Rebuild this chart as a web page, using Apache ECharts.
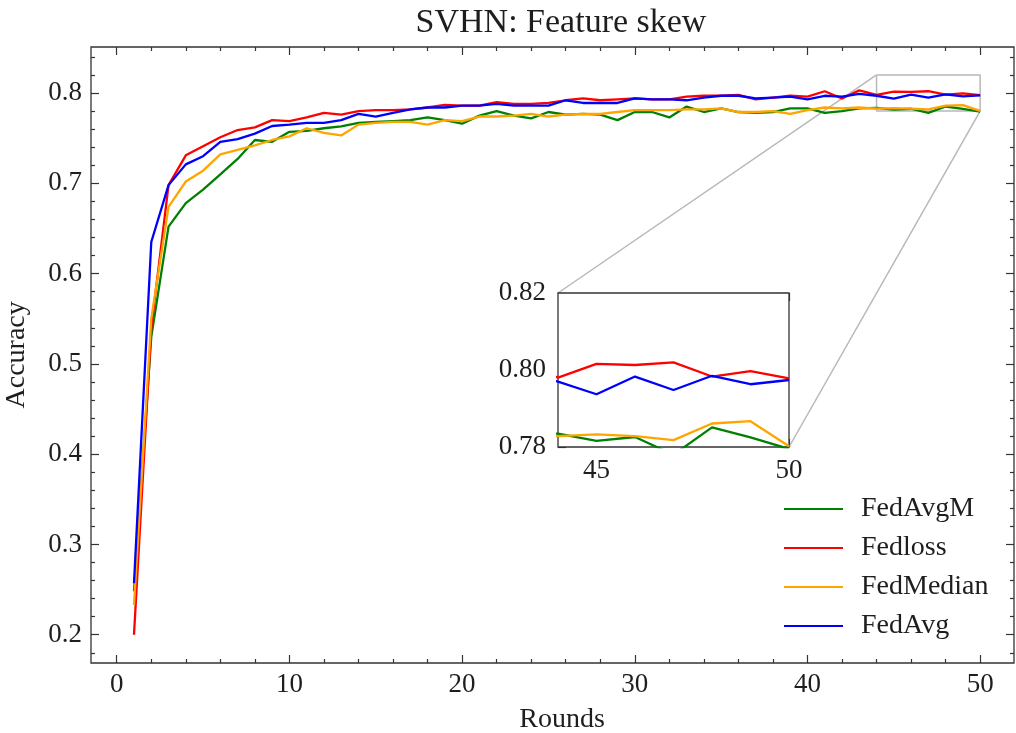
<!DOCTYPE html>
<html>
<head>
<meta charset="utf-8">
<script src="https://cdn.jsdelivr.net/npm/echarts@6/dist/echarts.min.js"></script>
<style>
html,body{margin:0;padding:0;background:#fff;}
#c{width:1016px;height:733px;}
</style>
</head>
<body>
<div id="c"></div>
<script>
// ---------------- data ----------------
const rounds = [1,2,3,4,5,6,7,8,9,10,11,12,13,14,15,16,17,18,19,20,21,22,23,24,25,26,27,28,29,30,31,32,33,34,35,36,37,38,39,40,41,42,43,44,45,46,47,48,49,50];
const fedAvgM = [0.248,0.530,0.652,0.678,0.693,0.710,0.727,0.748,0.746,0.757,0.758,0.761,0.763,0.767,0.768,0.769,0.770,0.773,0.770,0.766,0.775,0.780,0.775,0.772,0.779,0.776,0.777,0.776,0.770,0.779,0.779,0.773,0.785,0.779,0.783,0.779,0.778,0.779,0.783,0.783,0.778,0.780,0.783,0.7835,0.7816,0.7826,0.778,0.7851,0.7825,0.7795];
const fedLoss = [0.200,0.540,0.698,0.731,0.741,0.751,0.759,0.762,0.770,0.769,0.773,0.778,0.776,0.780,0.781,0.781,0.782,0.784,0.787,0.786,0.786,0.790,0.788,0.788,0.789,0.792,0.794,0.792,0.793,0.794,0.793,0.793,0.796,0.797,0.797,0.798,0.793,0.795,0.797,0.796,0.802,0.794,0.803,0.798,0.8016,0.8013,0.8020,0.7983,0.7997,0.7978];
const fedMedian = [0.233,0.550,0.674,0.702,0.714,0.732,0.737,0.742,0.748,0.752,0.761,0.756,0.753,0.765,0.767,0.768,0.768,0.765,0.770,0.769,0.774,0.774,0.775,0.777,0.774,0.776,0.777,0.777,0.779,0.781,0.781,0.781,0.782,0.782,0.783,0.779,0.779,0.780,0.777,0.781,0.784,0.783,0.784,0.7828,0.7833,0.7828,0.7818,0.7861,0.7867,0.7802];
const fedAvg = [0.257,0.635,0.698,0.721,0.730,0.746,0.749,0.755,0.7635,0.765,0.767,0.767,0.770,0.777,0.774,0.778,0.782,0.784,0.784,0.786,0.786,0.788,0.786,0.786,0.786,0.792,0.789,0.789,0.789,0.794,0.793,0.793,0.792,0.795,0.797,0.797,0.794,0.795,0.796,0.793,0.797,0.796,0.799,0.797,0.7937,0.7983,0.7948,0.7985,0.7963,0.7974];

const seriesNames = ['FedAvgM','Fedloss','FedMedian','FedAvg'];
const seriesColors = ['#008000','#ff0000','#ffa500','#0000ff'];
const seriesValues = [fedAvgM, fedLoss, fedMedian, fedAvg];

const xTicks = [0,10,20,30,40,50];
const yTicks = [0.2,0.3,0.4,0.5,0.6,0.7,0.8];
const insetXTicks = [45,50];
const insetYTicks = [0.78,0.80,0.82];
const zoomBox = {x0:44, x1:50, y0:0.78, y1:0.82};

const titleText = 'SVHN: Feature skew';
const xLabel = 'Rounds';
const yLabel = 'Accuracy';

// minor tick positions
const xMinor = [];
for (let v = 2; v <= 50; v += 2) if (v % 10 !== 0) xMinor.push(v);
const yMinor = [];
for (let k = 9; k <= 42; k++) { if (k % 5 !== 0) yMinor.push(+(k*0.02).toFixed(2)); }
const insetXMinor = [46,47,48,49];
const insetYMinor = [0.785,0.79,0.795,0.805,0.81,0.815];

// ---------------- style ----------------
const FONT = "'Liberation Serif','DejaVu Serif',serif";
const TXT = '#1e1e1e';
const AX = '#333333';
const LW = 2.3;

function mkAxis(dim, grid, pos, min, max, ticks, len, labels, fmt, margin) {
  const a = {
    type: 'value', gridIndex: grid, position: pos, min: min, max: max,
    axisLine: {show: false, onZero: false},
    splitLine: {show: false},
    axisTick: {show: true, inside: true, length: len, customValues: ticks,
               lineStyle: {color: AX, width: 1.2}},
    axisLabel: {show: !!labels}
  };
  if (labels) {
    a.axisLabel = {show: true, customValues: labels, margin: margin,
      fontFamily: FONT, fontSize: 27, color: TXT,
      formatter: fmt, showMinLabel: true, showMaxLabel: true};
  }
  return a;
}

const mainX = {min: -1.49, max: 51.96};
const mainY = {min: 0.1687, max: 0.851};

const xAxes = [
  mkAxis('x',0,'bottom',mainX.min,mainX.max,xTicks,8,xTicks,v=>String(Math.round(v)),8),
  mkAxis('x',0,'top',mainX.min,mainX.max,xTicks,8,null),
  mkAxis('x',0,'bottom',mainX.min,mainX.max,xMinor,4,null),
  mkAxis('x',0,'top',mainX.min,mainX.max,xMinor,4,null),
  mkAxis('x',1,'bottom',zoomBox.x0,zoomBox.x1,insetXTicks,8,insetXTicks,v=>String(Math.round(v)),10),
  mkAxis('x',1,'top',zoomBox.x0,zoomBox.x1,insetXTicks,8,null),
  mkAxis('x',1,'bottom',zoomBox.x0,zoomBox.x1,insetXMinor,4,null),
  mkAxis('x',1,'top',zoomBox.x0,zoomBox.x1,insetXMinor,4,null)
];
const yAxes = [
  mkAxis('y',0,'left',mainY.min,mainY.max,yTicks,8,yTicks,v=>v.toFixed(1),9),
  mkAxis('y',0,'right',mainY.min,mainY.max,yTicks,8,null),
  mkAxis('y',0,'left',mainY.min,mainY.max,yMinor,4,null),
  mkAxis('y',0,'right',mainY.min,mainY.max,yMinor,4,null),
  mkAxis('y',1,'left',zoomBox.y0,zoomBox.y1,insetYTicks,8,insetYTicks,v=>v.toFixed(2),12),
  mkAxis('y',1,'right',zoomBox.y0,zoomBox.y1,insetYTicks,8,null),
  mkAxis('y',1,'left',zoomBox.y0,zoomBox.y1,insetYMinor,4,null),
  mkAxis('y',1,'right',zoomBox.y0,zoomBox.y1,insetYMinor,4,null)
];

const series = [];
seriesValues.forEach((vals, i) => {
  const data = rounds.map((r, j) => [r, vals[j]]);
  series.push({
    name: seriesNames[i], type: 'line', xAxisIndex: 0, yAxisIndex: 0,
    data: data, symbol: 'none', showSymbol: false, clip: true, z: 3 + i,
    color: seriesColors[i],
    itemStyle: {color: seriesColors[i]},
    lineStyle: {color: seriesColors[i], width: LW}
  });
});
seriesValues.forEach((vals, i) => {
  const data = rounds.map((r, j) => [r, vals[j]]);
  series.push({
    name: seriesNames[i], type: 'line', xAxisIndex: 4, yAxisIndex: 4,
    data: data, symbol: 'none', showSymbol: false, clip: true, z: 13 + i,
    color: seriesColors[i],
    itemStyle: {color: seriesColors[i]},
    lineStyle: {color: seriesColors[i], width: LW}
  });
});
// zoom rectangle in the main axes
series.push({
  name: 'zoomRect', type: 'line', xAxisIndex: 0, yAxisIndex: 0,
  data: [[zoomBox.x0,zoomBox.y1],[zoomBox.x1,zoomBox.y1],[zoomBox.x1,zoomBox.y0],[zoomBox.x0,zoomBox.y0],[zoomBox.x0,zoomBox.y1]],
  symbol: 'none', silent: true, z: 2,
  lineStyle: {color: '#b8b8b8', width: 1.5}
});

const option = {
  animation: false,
  backgroundColor: '#ffffff',
  title: {
    text: titleText, left: 556, top: 1, textAlign: 'center',
    textStyle: {fontFamily: FONT, fontSize: 34, fontWeight: 'normal', color: TXT}
  },
  legend: {
    data: seriesNames.map(n => ({name: n, icon: 'rect'})),
    orient: 'vertical', left: 779, top: 490,
    itemWidth: 59, itemHeight: 2.2, itemGap: 11,
    textStyle: {fontFamily: FONT, fontSize: 28, color: TXT, lineHeight: 28, padding: [0,0,0,13]}
  },
  grid: [
    {left: 91, top: 47, width: 923, height: 616, show: true, borderColor: AX, borderWidth: 1.3,
     backgroundColor: 'transparent', containLabel: false, outerBoundsMode: 'none'},
    {left: 558, top: 293, width: 231, height: 154, show: true, borderColor: AX, borderWidth: 1.3,
     backgroundColor: '#ffffff', containLabel: false, outerBoundsMode: 'none', z: 10}
  ],
  xAxis: xAxes,
  yAxis: yAxes,
  series: series
};

const chart = echarts.init(document.getElementById('c'), null, {renderer: 'canvas'});
chart.setOption(option);

// connectors between zoom box and inset, located through the library's scales
const pMainTL = chart.convertToPixel({xAxisIndex: 0, yAxisIndex: 0}, [zoomBox.x0, zoomBox.y1]);
const pMainBR = chart.convertToPixel({xAxisIndex: 0, yAxisIndex: 0}, [zoomBox.x1, zoomBox.y0]);
const pInsTL = chart.convertToPixel({xAxisIndex: 4, yAxisIndex: 4}, [zoomBox.x0, zoomBox.y1]);
const pInsBR = chart.convertToPixel({xAxisIndex: 4, yAxisIndex: 4}, [zoomBox.x1, zoomBox.y0]);

// axis titles positioned relative to the grid
const cx = chart.convertToPixel({xAxisIndex: 0}, 25.5);
const cy = chart.convertToPixel({yAxisIndex: 0}, 0.51);

chart.setOption({
  graphic: [
    {type: 'text', x: cx + 5, y: 720, style: {text: xLabel, font: "28px 'Liberation Serif','DejaVu Serif',serif", fill: TXT, align: 'center', verticalAlign: 'middle'}},
    {type: 'text', x: 17, y: cy, rotation: Math.PI/2, style: {text: yLabel, font: "28px 'Liberation Serif','DejaVu Serif',serif", fill: TXT, align: 'center', verticalAlign: 'middle'}},
    {type: 'line', z: 1, silent: true, shape: {x1: pMainTL[0], y1: pMainTL[1], x2: pInsTL[0], y2: pInsTL[1]}, style: {stroke: '#b8b8b8', lineWidth: 1.5}},
    {type: 'line', z: 1, silent: true, shape: {x1: pMainBR[0], y1: pMainBR[1], x2: pInsBR[0], y2: pInsBR[1]}, style: {stroke: '#b8b8b8', lineWidth: 1.5}}
  ]
});
</script>
</body>
</html>
